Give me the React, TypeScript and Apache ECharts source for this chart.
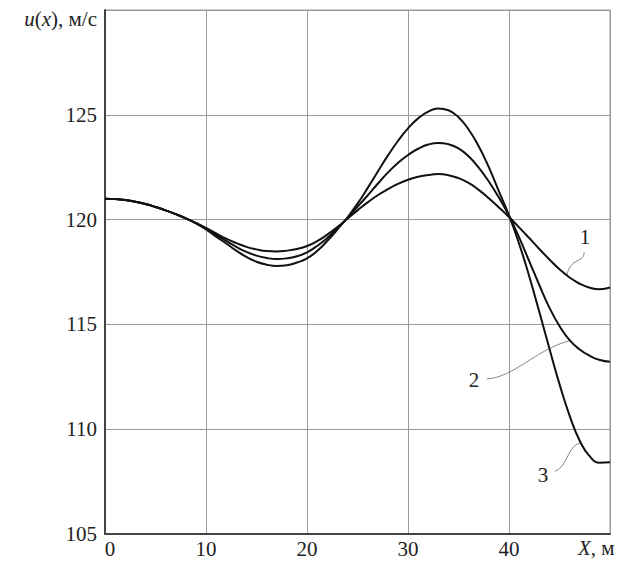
import React, { useEffect, useRef } from "react";
import * as echarts from "echarts";

const xValues = [0, 1, 2, 3, 4, 5, 6, 7, 8, 9, 10, 11, 12, 13, 14, 15, 16, 17, 18, 19, 20, 21, 22, 23, 24, 25, 26, 27, 28, 29, 30, 31, 32, 33, 34, 35, 36, 37, 38, 39, 40, 41, 42, 43, 44, 45, 46, 47, 48, 49, 50];

const curve1 = [121.0, 120.98, 120.93, 120.85, 120.74, 120.6, 120.44, 120.26, 120.06, 119.84, 119.6,
  119.34, 119.09, 118.88, 118.7, 118.58, 118.5, 118.48, 118.52, 118.6, 118.74,
  118.97, 119.28, 119.64, 120.04, 120.44, 120.82, 121.16, 121.45, 121.7, 121.9,
  122.04, 122.13, 122.17, 122.12, 121.98, 121.75, 121.42, 121.02, 120.58, 120.12,
  119.63, 119.12, 118.6, 118.1, 117.63, 117.24, 116.94, 116.75, 116.68, 116.76];

const curve2 = [121.0, 120.98, 120.93, 120.85, 120.74, 120.6, 120.44, 120.26, 120.06, 119.83, 119.57,
  119.27, 118.98, 118.7, 118.46, 118.28, 118.17, 118.12, 118.15, 118.25, 118.44,
  118.74, 119.12, 119.58, 120.08, 120.61, 121.15, 121.71, 122.24, 122.7, 123.08,
  123.38, 123.58, 123.66, 123.6, 123.4, 123.02, 122.48, 121.82, 121.05, 120.18,
  119.15, 118.02, 116.88, 115.8, 114.92, 114.25, 113.8, 113.5, 113.3, 113.22];

const curve3 = [121.0, 120.98, 120.93, 120.85, 120.74, 120.6, 120.44, 120.26, 120.06, 119.82, 119.53,
  119.19, 118.86, 118.52, 118.22, 117.99, 117.85, 117.79, 117.82, 117.95, 118.15,
  118.5, 118.98, 119.52, 120.1, 120.76, 121.5, 122.28, 123.05, 123.75, 124.35,
  124.83, 125.15, 125.3, 125.22, 124.88, 124.3, 123.5, 122.5, 121.35, 120.2,
  118.85, 117.3, 115.6, 113.85, 112.15, 110.65, 109.45, 108.7, 108.4, 108.42];

const xTicks = [0, 10, 20, 30, 40];
const yTicks = [105, 110, 115, 120, 125];
const curveLabels = ["1", "2", "3"];
const yAxisTitle = "{i|u}({i|x}), м/с";
const xAxisTitle = "{i|X}, м";

// annotation anchors in data coordinates: label position, leader bezier points
const labelPos: number[][] = [[47.52, 119.17], [36.53, 112.35], [43.37, 107.82]];
const leaderPts: number[][][] = [
  [[47.43, 118.45], [47.52, 117.96], [46.04, 118.17], [45.74, 117.36]],
  [[37.82, 112.4], [40.59, 112.49], [42.57, 113.78], [46.04, 114.23]],
  [[44.55, 108.0], [45.84, 108.2], [45.84, 109.35], [47.23, 109.33]],
];

const FONT = "Liberation Serif";
const FS = 21;

export default function App() {
  const ref = useRef<HTMLDivElement>(null);
  useEffect(() => {
    if (!ref.current) return;
    const chart = echarts.init(ref.current, null, { renderer: "svg" });
    const mk = (ys: number[]) => xValues.map((x, i) => [x, ys[i]]);
    const series = [curve1, curve2, curve3].map((ys, k) => ({
      type: "line",
      name: curveLabels[k],
      data: mk(ys),
      showSymbol: false,
      smooth: 0.5,
      lineStyle: { color: "#111", width: 2 },
      z: 5,
    }));
    chart.setOption({
      animation: false,
      backgroundColor: "#fff",
      grid: {
        left: 105,
        right: 21,
        top: 10,
        bottom: 40,
        show: true,
        borderColor: "#9a9a9a",
        borderWidth: 1,
      },
      xAxis: {
        type: "value",
        min: 0,
        max: 50,
        interval: 10,
        axisLine: { show: true, lineStyle: { color: "#444", width: 2 } },
        axisTick: { show: false },
        splitLine: { show: true, lineStyle: { color: "#9a9a9a", width: 1 } },
        axisLabel: {
          color: "#222",
          fontFamily: FONT,
          fontSize: FS,
          margin: 4,
          formatter: (v: number) => (v === 0 ? "{z|0}" : xTicks.includes(v) ? String(v) : ""),
          rich: { z: { fontFamily: FONT, fontSize: FS, color: "#222", padding: [0, 0, 0, 10] } },
        },
      },
      yAxis: {
        type: "value",
        min: 105,
        max: 130,
        interval: 5,
        axisLine: { show: true, lineStyle: { color: "#444", width: 2 } },
        axisTick: { show: false },
        splitLine: { show: true, lineStyle: { color: "#9a9a9a", width: 1 } },
        axisLabel: {
          color: "#222",
          fontFamily: FONT,
          fontSize: FS,
          margin: 8,
          formatter: (v: number) => (yTicks.includes(v) ? String(v) : ""),
        },
      },
      series,
    });

    const px = (p: number[]) => chart.convertToPixel({ gridIndex: 0 }, p) as number[];
    const rich = {
      i: { fontStyle: "italic", fontFamily: FONT, fontSize: FS, fill: "#222" },
      n: { fontFamily: FONT, fontSize: FS, fill: "#222" },
    };
    const graphics: any[] = [];
    graphics.push({
      type: "text",
      style: {
        x: 97,
        y: 19,
        text: yAxisTitle,
        fill: "#222",
        fontFamily: FONT,
        fontSize: FS,
        align: "right",
        verticalAlign: "middle",
        rich,
      },
    });
    graphics.push({
      type: "text",
      style: {
        x: 578,
        y: 548,
        text: xAxisTitle,
        fill: "#222",
        fontFamily: FONT,
        fontSize: FS,
        align: "left",
        verticalAlign: "middle",
        rich,
      },
    });
    curveLabels.forEach((lab, k) => {
      const p = px(labelPos[k]);
      graphics.push({
        type: "text",
        style: {
          x: p[0],
          y: p[1],
          text: lab,
          fill: "#222",
          fontFamily: FONT,
          fontSize: FS,
          align: "center",
          verticalAlign: "middle",
        },
      });
      const [a, b, c, d] = leaderPts[k].map(px);
      graphics.push({
        type: "bezierCurve",
        shape: { x1: a[0], y1: a[1], cpx1: b[0], cpy1: b[1], cpx2: c[0], cpy2: c[1], x2: d[0], y2: d[1] },
        style: { stroke: "#666", lineWidth: 0.8, fill: null },
      });
    });
    chart.setOption({ graphic: graphics });
    return () => chart.dispose();
  }, []);
  return (
    <div
      ref={ref}
      style={{ position: "absolute", left: 0, top: 0, width: 631, height: 574, background: "#fff" }}
    />
  );
}
